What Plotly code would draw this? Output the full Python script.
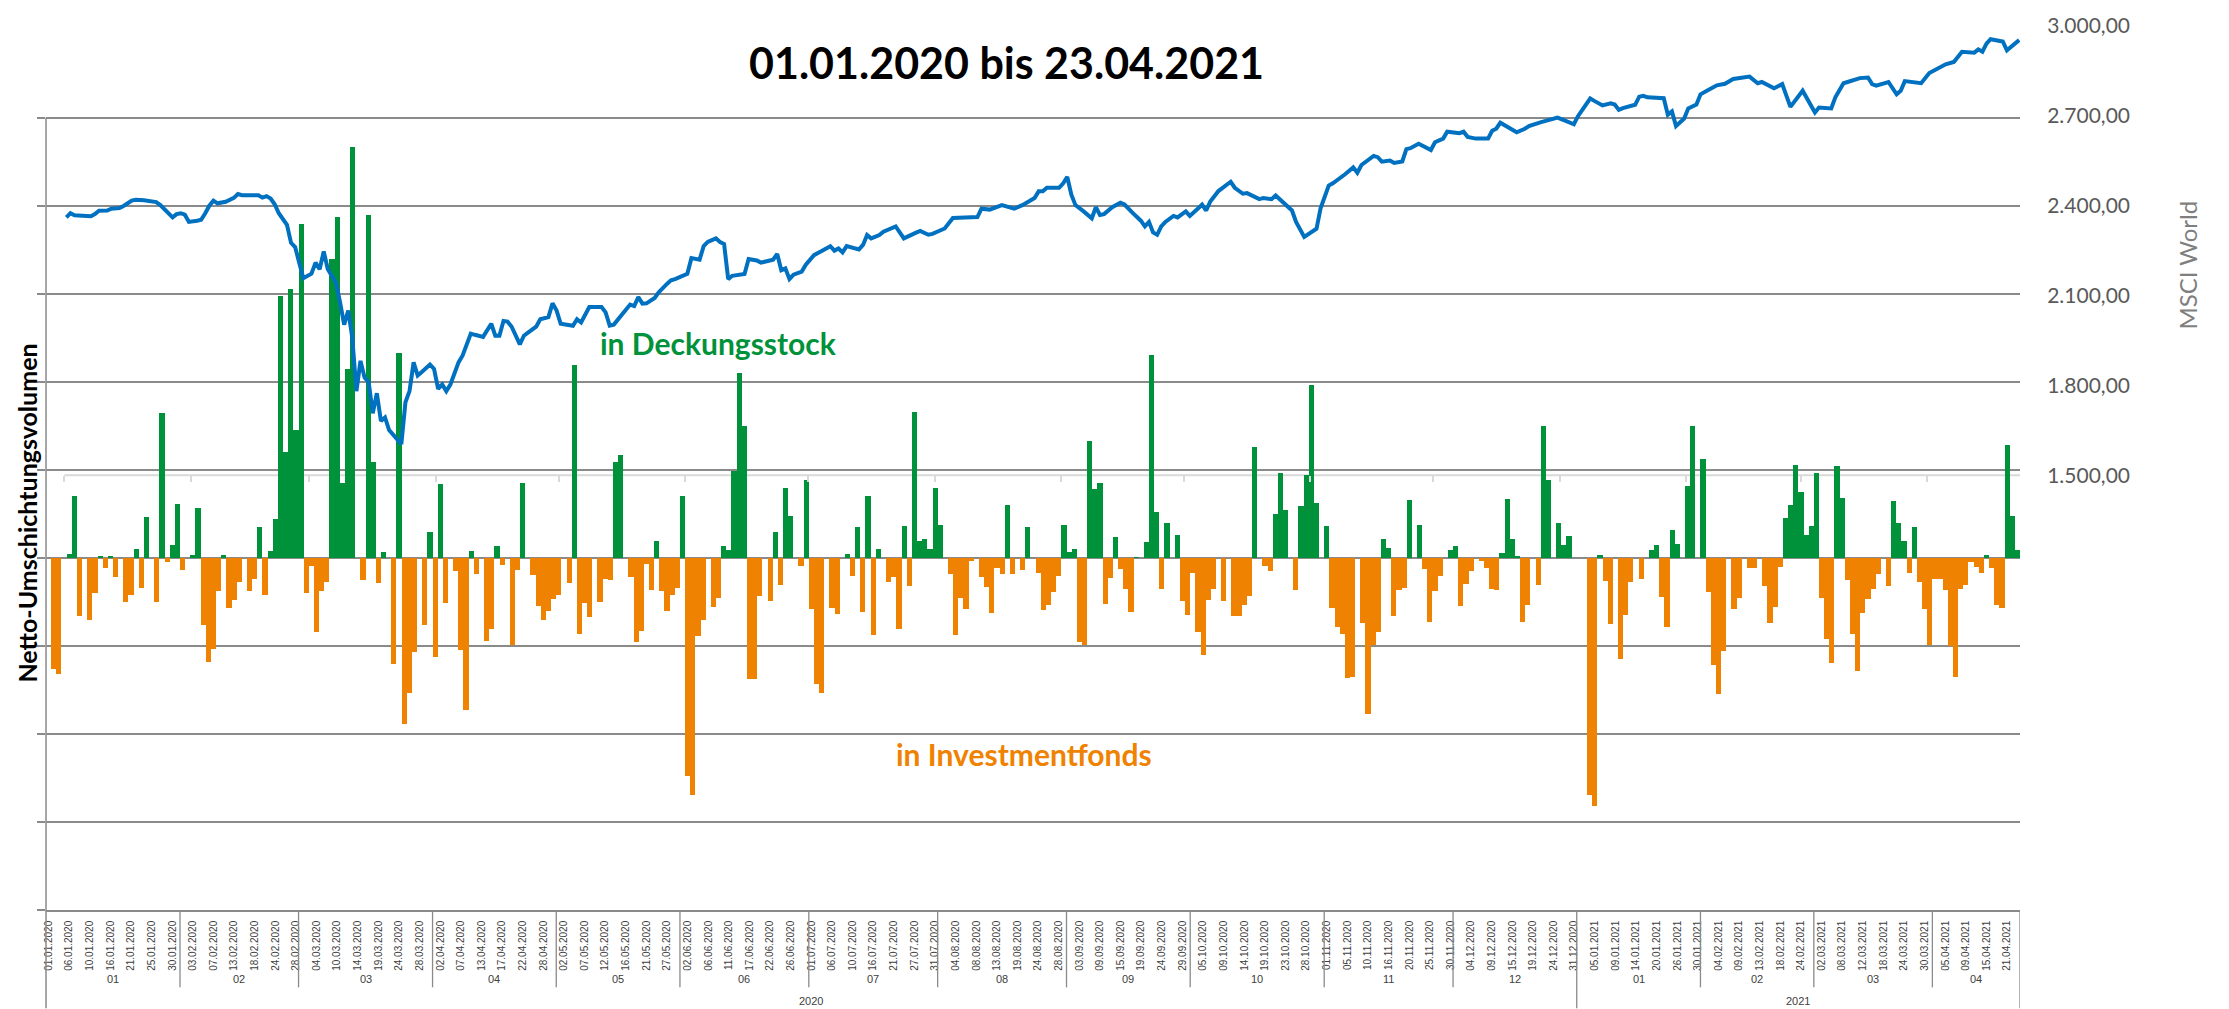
import datetime as dt
import plotly.graph_objects as go

# ---------------- data ----------------
tick_labels = [
    "01.01.2020", "06.01.2020", "10.01.2020", "16.01.2020", "21.01.2020", "25.01.2020", "30.01.2020",
    "03.02.2020", "07.02.2020", "13.02.2020", "18.02.2020", "24.02.2020", "28.02.2020",
    "04.03.2020", "10.03.2020", "14.03.2020", "19.03.2020", "24.03.2020", "28.03.2020",
    "02.04.2020", "07.04.2020", "13.04.2020", "17.04.2020", "22.04.2020", "28.04.2020",
    "02.05.2020", "07.05.2020", "12.05.2020", "16.05.2020", "21.05.2020", "27.05.2020",
    "02.06.2020", "06.06.2020", "11.06.2020", "17.06.2020", "22.06.2020", "26.06.2020",
    "01.07.2020", "06.07.2020", "10.07.2020", "16.07.2020", "21.07.2020", "27.07.2020", "31.07.2020",
    "04.08.2020", "08.08.2020", "13.08.2020", "19.08.2020", "24.08.2020", "28.08.2020",
    "03.09.2020", "09.09.2020", "15.09.2020", "19.09.2020", "24.09.2020", "29.09.2020",
    "05.10.2020", "09.10.2020", "14.10.2020", "19.10.2020", "23.10.2020", "28.10.2020",
    "01.11.2020", "05.11.2020", "10.11.2020", "16.11.2020", "20.11.2020", "25.11.2020", "30.11.2020",
    "04.12.2020", "09.12.2020", "15.12.2020", "19.12.2020", "24.12.2020", "31.12.2020",
    "05.01.2021", "09.01.2021", "14.01.2021", "20.01.2021", "26.01.2021", "30.01.2021",
    "04.02.2021", "09.02.2021", "13.02.2021", "18.02.2021", "24.02.2021",
    "02.03.2021", "08.03.2021", "12.03.2021", "18.03.2021", "24.03.2021", "30.03.2021",
    "05.04.2021", "09.04.2021", "15.04.2021", "21.04.2021",
]
tail_dates = ["22.04.2021", "23.04.2021"]

# Netto-Umschichtungsvolumen, one value per category (positive = in Deckungsstock, negative = in Investmentfonds)
netto = [
    0, -126, -132, 0, 4, 70, -66, 0, -70, -40, 2, -11, 2, -22, 0, -50, -42, 10, -34, 47,
    0, -50, 165, -5, 15, 61, -14, 0, 3, 57, -76, -118, -103, -38, 3, -57, -48, -27, 0, -38,
    -24, 35, -42, 8, 44, 297, 120, 305, 145, 379, -40, -9, -84, -38, -27, 340, 387, 85, 215, 467,
    0, -25, 390, 109, -29, 7, 0, -120, 233, -189, -154, -107, 0, -76, 29, -113, 84, -51, 0, -15,
    -105, -173, 8, -18, 0, -94, -81, 13, -8, 0, -99, -14, 85, 0, -19, -55, -71, -60, -47, -42,
    0, -28, 219, -86, -51, -67, 0, -50, -24, -25, 109, 117, 0, -22, -96, -83, -7, -37, 19, -38,
    -60, -42, -34, 70, -248, -269, -89, -71, 0, -56, -45, 14, 9, 99, 210, 150, -138, -138, -43, 0,
    -49, 29, -31, 79, 48, 0, -9, 89, -58, -143, -154, 0, -57, -64, 0, 4, -21, 35, -62, 70,
    -88, 10, 0, -27, -22, -81, 36, -32, 166, 19, 21, 10, 80, 37, 0, -18, -88, -46, -58, -3,
    0, -22, -33, -63, -12, -18, 60, -18, 0, -14, 35, 0, -17, -59, -54, -39, -21, 37, 7, 10,
    -96, -99, 133, 78, 85, -52, -23, 24, -13, -35, -62, 1, 0, 18, 230, 52, -35, 40, 0, 26,
    -49, -65, -17, -84, -110, -48, -35, 0, -49, 0, -66, -66, -53, -43, 126, 0, -9, -15, 50, 97,
    55, 0, -37, 59, 94, 197, 62, 0, 36, -57, -79, -87, -136, -135, 0, -74, -177, -99, -84, 22,
    11, -66, -37, -34, 66, 0, 37, -13, -73, -38, -20, 0, 9, 14, -55, -30, -15, 0, -3, -11,
    -35, -36, 6, 67, 22, 2, -73, -53, 0, -31, 150, 89, 0, 40, 15, 25, 0, 0, 0, -269,
    -282, 3, -26, -75, 0, -115, -65, -27, 0, -24, 0, 9, 15, -44, -78, 32, 16, 0, 82, 150,
    0, 112, -39, -122, -155, -106, 0, -58, -45, 0, -12, -12, 0, -32, -74, -56, -10, 45, 60, 105,
    75, 26, 36, 97, -45, -92, -119, 104, 68, -25, -86, -128, -63, -47, -35, -18, 0, -32, 65, 40,
    19, -17, 35, -27, -58, -99, -24, -24, -36, -100, -135, -35, -31, -5, -10, -17, 3, -12, -54, -57,
    128, 48, 9,
]

# MSCI World (secondary axis), day offset from 01.01.2020 and index level
msci_day = [
    0, 1, 2, 3, 6, 7, 8, 10, 11, 13, 14, 16, 17, 19, 21, 22, 23, 24, 25, 26,
    27, 28, 29, 30, 32, 33, 34, 35, 36, 37, 39, 40, 41, 42, 43, 45, 47, 48, 49, 50,
    51, 52, 54, 55, 56, 57, 58, 60, 61, 62, 63, 64, 65, 66, 67, 68, 69, 70, 71, 72,
    73, 74, 75, 76, 77, 78, 79, 80, 82, 83, 84, 85, 86, 87, 89, 90, 91, 92, 93, 94,
    95, 96, 97, 99, 100, 102, 104, 105, 106, 107, 108, 109, 111, 112, 113, 115,
    116, 118, 119, 120, 121, 124, 125, 126, 128, 131, 132, 133, 134, 135, 138, 139, 140, 141, 142, 144,
    145, 147, 148, 149, 152, 153, 155, 156, 157, 159, 160, 161, 162, 163, 166, 167, 169, 170, 173, 174,
    175, 176, 177, 178, 180, 181, 182, 183, 185, 187, 188, 189, 190, 191, 194, 195, 196, 197, 199, 200,
    203, 204, 205, 208, 209, 211, 212, 215, 217, 220, 223, 224, 226, 229, 230, 232, 234, 236,
    237, 238, 239, 240, 243, 244, 245, 246, 247, 249, 251, 252, 253, 254, 256, 258, 259, 261, 263, 264,
    265, 266, 267, 268, 269, 271, 272, 274, 275, 277, 278, 279, 280, 282, 285, 286, 288, 289, 292, 293,
    295, 296, 298, 300, 301, 303, 306, 307, 309, 310, 313, 315, 316, 317, 320, 321, 322, 324, 325, 327,
    328, 329, 331, 334, 335, 337, 338, 341, 342, 343, 345, 348, 349, 350, 351, 353, 355, 357,
    358, 361, 365, 367, 369, 370, 372, 373, 374, 376, 378, 379, 380, 381, 384, 385, 386, 387, 391, 392,
    393, 394, 396, 397, 399, 400, 402, 404, 406, 408, 412, 414, 415, 418, 420, 422, 425, 426, 428, 429,
    432, 433, 435, 436, 439, 441, 442, 443, 446, 448, 449, 450, 453, 454, 456, 460, 462, 464, 467, 468,
    469, 470, 471, 474, 475, 476, 477, 478,
]
msci_value = [
    2361, 2375, 2368, 2367, 2365, 2372, 2383, 2384, 2390, 2392, 2399, 2417, 2420, 2418, 2414, 2412, 2402, 2387, 2372, 2361,
    2372, 2375, 2370, 2346, 2350, 2353, 2375, 2400, 2417, 2408, 2413, 2420, 2426, 2439, 2435, 2435, 2435, 2427, 2432, 2424,
    2405, 2375, 2336, 2276, 2262, 2210, 2158, 2173, 2210, 2188, 2247, 2188, 2166, 2143, 2077, 2003, 2050, 1958, 1781, 1882,
    1826, 1811, 1707, 1774, 1681, 1693, 1651, 1636, 1604, 1744, 1781, 1877, 1833, 1845, 1870, 1855, 1789, 1803, 1781, 1803,
    1840, 1877, 1900, 1973, 1969, 1962, 2006, 1966, 1966, 2015, 2013, 1996, 1937, 1966, 1976, 1996,
    2021, 2028, 2074, 2050, 2006, 1999, 2021, 2010, 2062, 2062, 2044, 2000, 2003, 2021, 2070, 2065, 2095, 2073, 2074, 2092,
    2111, 2139, 2151, 2155, 2173, 2225, 2220, 2265, 2279, 2291, 2279, 2272, 2155, 2166, 2172, 2222, 2217, 2210, 2220, 2239,
    2185, 2191, 2155, 2170, 2180, 2203, 2217, 2235, 2250, 2265, 2250, 2257, 2244, 2265, 2254, 2269, 2302, 2291, 2302, 2313,
    2331, 2313, 2291, 2310, 2316, 2303, 2306, 2324, 2359, 2361, 2362, 2390, 2387, 2402, 2398, 2390, 2402, 2420,
    2426, 2448, 2448, 2460, 2460, 2475, 2496, 2437, 2402, 2381, 2358, 2395, 2369, 2372, 2395, 2410, 2404, 2376, 2350, 2331,
    2346, 2311, 2303, 2331, 2346, 2366, 2361, 2381, 2366, 2391, 2404, 2384, 2414, 2449, 2480, 2460, 2440, 2442, 2422, 2426,
    2422, 2434, 2407, 2384, 2346, 2296, 2323, 2391, 2467, 2475, 2505, 2528, 2510, 2536, 2566, 2562, 2547, 2551, 2543, 2548,
    2589, 2592, 2607, 2586, 2612, 2624, 2647, 2642, 2647, 2630, 2624, 2624, 2650, 2657, 2677, 2661, 2645, 2657,
    2666, 2679, 2694, 2683, 2672, 2699, 2738, 2758, 2750, 2735, 2742, 2738, 2720, 2726, 2737, 2764, 2767, 2762, 2759, 2704,
    2715, 2666, 2691, 2725, 2738, 2772, 2787, 2802, 2807, 2823, 2831, 2809, 2813, 2792, 2806, 2730, 2784, 2758, 2711, 2728,
    2725, 2762, 2809, 2813, 2826, 2828, 2806, 2801, 2813, 2772, 2784, 2816, 2813, 2809, 2843, 2872, 2880, 2914, 2911, 2922,
    2914, 2941, 2956, 2948, 2919, 2931, 2941, 2953,
]

right_ticks = [1500, 1800, 2100, 2400, 2700, 3000]
right_tick_text = ["1.500,00", "1.800,00", "2.100,00", "2.400,00", "2.700,00", "3.000,00"]
left_grid = [-400, -300, -200, -100, 0, 100, 200, 300, 400, 500]

title_text = "01.01.2020 bis 23.04.2021"
y_title = "Netto-Umschichtungsvolumen"
y2_title = "MSCI World"
label_pos = "in Deckungsstock"
label_neg = "in Investmentfonds"

GREEN = "#00923A"
ORANGE = "#EF8200"
BLUE = "#0070C0"
GRID = "#8A8A8A"

# ---------------- categories (text axis: every 4th category labelled) ----------------
def parse(s):
    return dt.datetime.strptime(s, "%d.%m.%Y").date()

lab = [parse(s) for s in tick_labels]
cats = []
for a, b in zip(lab[:-1], lab[1:]):
    cats.append(a)
    cands = [a + dt.timedelta(days=k) for k in range(1, (b - a).days)]
    if len(cands) > 3:
        wk = [d for d in cands if d.weekday() < 5]
        we = [d for d in cands if d.weekday() >= 5]
        pick = wk[:3]
        while len(pick) < 3:
            pick.append(we.pop())
        cands = sorted(pick)
    cats.extend(cands)
cats.append(lab[-1])
cats.extend(parse(s) for s in tail_dates)
n = len(cats)
idx = list(range(n))
tick_idx = [cats.index(d) for d in lab]

# ---------------- geometry ----------------
W, H = 2229, 1009
L, R, T, B = 45.7, 2019.7, 18.7, 910.0


def px_x(X):
    return (X - L) / (R - L)


def px_y(Y):
    return (B - Y) / (B - T)


base = dt.datetime(2020, 1, 1)
msci_x = [base + dt.timedelta(days=d, hours=12) for d in msci_day]
x2_range = [base + dt.timedelta(days=-4.48), base + dt.timedelta(days=478.7)]

fig = go.Figure()
fig.add_trace(go.Bar(
    x=idx, y=netto, width=1.0,
    marker=dict(color=[GREEN if v > 0 else ORANGE for v in netto], line=dict(width=0)),
    showlegend=False, hoverinfo="x+y",
))
fig.add_trace(go.Scatter(
    x=msci_x, y=msci_value, xaxis="x2", yaxis="y2", mode="lines",
    line=dict(color=BLUE, width=4), showlegend=False,
))

FONT = "Lato, 'Open Sans', sans-serif"
SMALL = "Liberation Sans, Arial, sans-serif"

fig.update_layout(
    width=W, height=H,
    margin=dict(l=L, r=W - R, t=T, b=H - B, pad=0),
    paper_bgcolor="white", plot_bgcolor="white",
    bargap=0,
    font=dict(family=FONT, color="#404040"),
    xaxis=dict(
        range=[-0.5, n - 0.5], tickmode="array", tickvals=tick_idx, ticktext=tick_labels,
        tickangle=-90, tickfont=dict(family=SMALL, size=10, color="#404040"),
        ticks="outside", ticklen=5, tickcolor="rgba(0,0,0,0)",
        showgrid=False, zeroline=False, showline=True, linecolor=GRID, linewidth=1.5,
    ),
    yaxis=dict(
        range=[-400, 604.3], tickmode="array", tickvals=left_grid, showticklabels=False,
        showgrid=True, gridcolor=GRID, gridwidth=1.5, zeroline=False,
        ticks="outside", ticklen=8, tickcolor=GRID, tickwidth=1.5, showline=False,
    ),
    xaxis2=dict(
        type="date", overlaying="x", anchor="free", position=px_y(471.7), side="bottom",
        range=x2_range, tick0="2020-01-01", dtick="M1", ticks="outside", ticklen=6,
        tickcolor="#D9D9D9", tickwidth=1.5, showticklabels=False, showgrid=False,
        zeroline=False, showline=False,
    ),
    yaxis2=dict(
        overlaying="y", side="right", anchor="free", position=1.0,
        range=[48.7, 3000], tickmode="array", tickvals=right_ticks, ticktext=right_tick_text,
        tickfont=dict(family=FONT, size=21, color="#595959"),
        ticks="outside", ticklen=22, tickcolor="rgba(0,0,0,0)",
        showgrid=False, zeroline=False, showline=False,
    ),
)

shapes = []
# light secondary axis line at 1.500
shapes.append(dict(type="line", xref="x2", yref="y2", x0=base, x1=x2_range[1], y0=1500, y1=1500,
                   line=dict(color="#D9D9D9", width=2), layer="below"))
# left axis line extending through the category table
shapes.append(dict(type="line", xref="paper", yref="paper", x0=0, x1=0, y0=px_y(111.2), y1=px_y(H),
                   line=dict(color=GRID, width=1.5)))

# month / year groups
month_key = [(c.year, c.month) for c in cats]
groups = []
s = 0
for i in range(1, n + 1):
    if i == n or month_key[i] != month_key[s]:
        groups.append((s, i - 1, month_key[s]))
        s = i
annotations = []
for k, (a, b, (yy, mm)) in enumerate(groups):
    if k > 0:
        new_year = groups[k - 1][2][0] != yy
        shapes.append(dict(type="line", xref="x", yref="paper", x0=a - 0.5, x1=a - 0.5,
                           y0=0, y1=px_y(H) if new_year else px_y(988),
                           line=dict(color=GRID, width=1.3)))
    annotations.append(dict(x=(a + b) / 2, y=px_y(980), xref="x", yref="paper", text="%02d" % mm,
                            xanchor="center", yanchor="middle", showarrow=False,
                            font=dict(family=SMALL, size=11, color="#404040")))
shapes.append(dict(type="line", xref="x", yref="paper", x0=n - 0.5, x1=n - 0.5, y0=0, y1=px_y(H),
                   line=dict(color=GRID, width=1.3)))

years = sorted(set(c.year for c in cats))
for yv in years:
    ii = [i for i, c in enumerate(cats) if c.year == yv]
    annotations.append(dict(x=(ii[0] + ii[-1]) / 2, y=px_y(1002), xref="x", yref="paper", text=str(yv),
                            xanchor="center", yanchor="middle", showarrow=False,
                            font=dict(family=SMALL, size=11, color="#404040")))

def note(X, Y, text, size, color, angle=0):
    return dict(x=px_x(X), y=px_y(Y), xref="paper", yref="paper", text=text, textangle=angle,
                xanchor="center", yanchor="middle", showarrow=False,
                font=dict(family=FONT, size=size, color=color))

annotations += [
    note(1006, 55, "<b>%s</b>" % title_text, 43, "#000000"),
    note(27, 510, "<b>%s</b>" % y_title, 25, "#000000", -90),
    note(2187, 260, y2_title, 24, "#7F7F7F", -90),
    note(718, 338, "<b>%s</b>" % label_pos, 30, GREEN),
    note(1024, 753, "<b>%s</b>" % label_neg, 30, ORANGE),
]

fig.update_layout(shapes=shapes, annotations=annotations)
fig.write_html(
    "out.html",
    config={"displayModeBar": False},
    post_script="document.body.style.margin='0';document.body.style.overflow='hidden';",
)
